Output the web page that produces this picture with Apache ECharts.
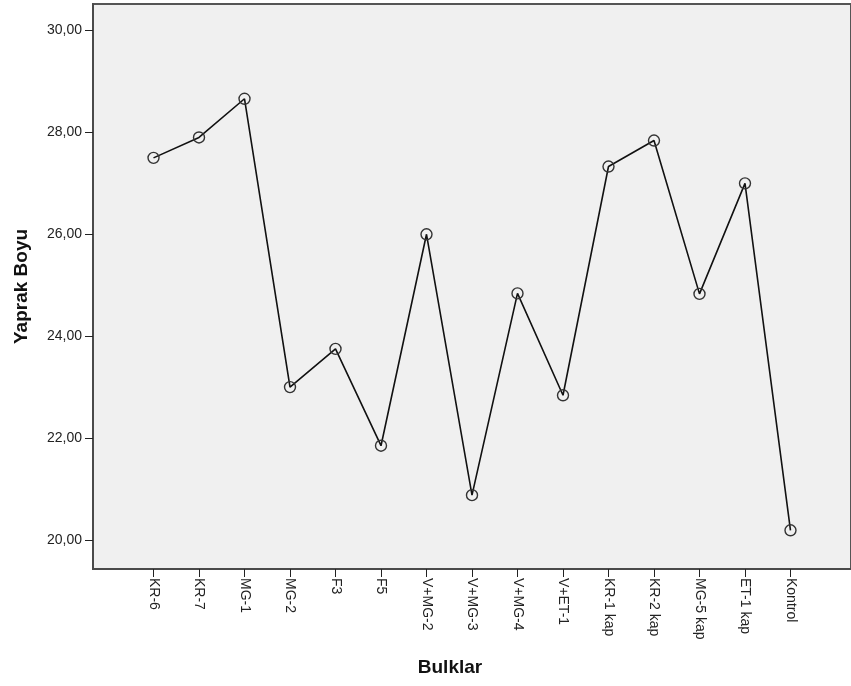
<!DOCTYPE html>
<html><head><meta charset="utf-8">
<script src="https://cdn.jsdelivr.net/npm/echarts@6/dist/echarts.min.js"></script>
<style>html,body{margin:0;padding:0;background:#fff}#c{width:851px;height:686px}</style>
</head><body><div id="c"></div>
<script>
var categories = ["KR-6","KR-7","MG-1","MG-2","F3","F5","V+MG-2","V+MG-3","V+MG-4","V+ET-1","KR-1 kap","KR-2 kap","MG-5 kap","ET-1 kap","Kontrol"];
var values = [27.5,27.9,28.66,23.0,23.75,21.85,26.0,20.88,24.84,22.84,27.33,27.84,24.83,27.0,20.19];
var yTicks = [20,22,24,26,28,30];

var chart = echarts.init(document.getElementById('c'), null, {renderer:'canvas'});
var font = '"Liberation Sans", Arial, sans-serif';
var idx = categories.map(function(_, i){ return i; });
chart.setOption({
  animation:false,
  grid:{left:93, top:4, width:765, height:565, show:true, backgroundColor:'#f0f0f0', borderColor:'#555', borderWidth:2},
  xAxis:{
    type:'value', min:-1.33, max:15.33,
    name:'Bulklar', nameLocation:'middle', nameGap:89,
    nameTextStyle:{fontFamily:font, fontSize:19, fontWeight:'bold', color:'#111', padding:[0,44,0,0]},
    axisLine:{show:true, onZero:false, lineStyle:{color:'#4a4a4a', width:2}},
    axisTick:{show:true, customValues:idx, length:8, lineStyle:{color:'#222', width:1}},
    axisLabel:{customValues:idx, rotate:-90, fontFamily:font, fontSize:14, color:'#222', margin:9,
      formatter:function(v){ return categories[Math.round(v)]; }},
    splitLine:{show:false}
  },
  yAxis:{
    type:'value', min:19.43, max:30.52,
    name:'Yaprak Boyu', nameLocation:'middle', nameGap:62, nameRotate:90,
    nameTextStyle:{fontFamily:font, fontSize:19, fontWeight:'bold', color:'#111'},
    axisLine:{show:true, onZero:false, lineStyle:{color:'#4a4a4a', width:2}},
    axisTick:{show:true, customValues:yTicks, length:8, lineStyle:{color:'#222', width:1}},
    axisLabel:{customValues:yTicks, fontFamily:font, fontSize:14, color:'#222', margin:11,
      formatter:function(v){ return v.toFixed(2).replace('.', ','); }},
    splitLine:{show:false}
  },
  series:[{
    type:'line',
    data:values.map(function(v,i){ return [i, v]; }),
    symbol:'circle', symbolSize:11,
    itemStyle:{color:'transparent', borderColor:'#333', borderWidth:1.4},
    lineStyle:{color:'#111', width:1.6}
  }]
});
</script></body></html>
